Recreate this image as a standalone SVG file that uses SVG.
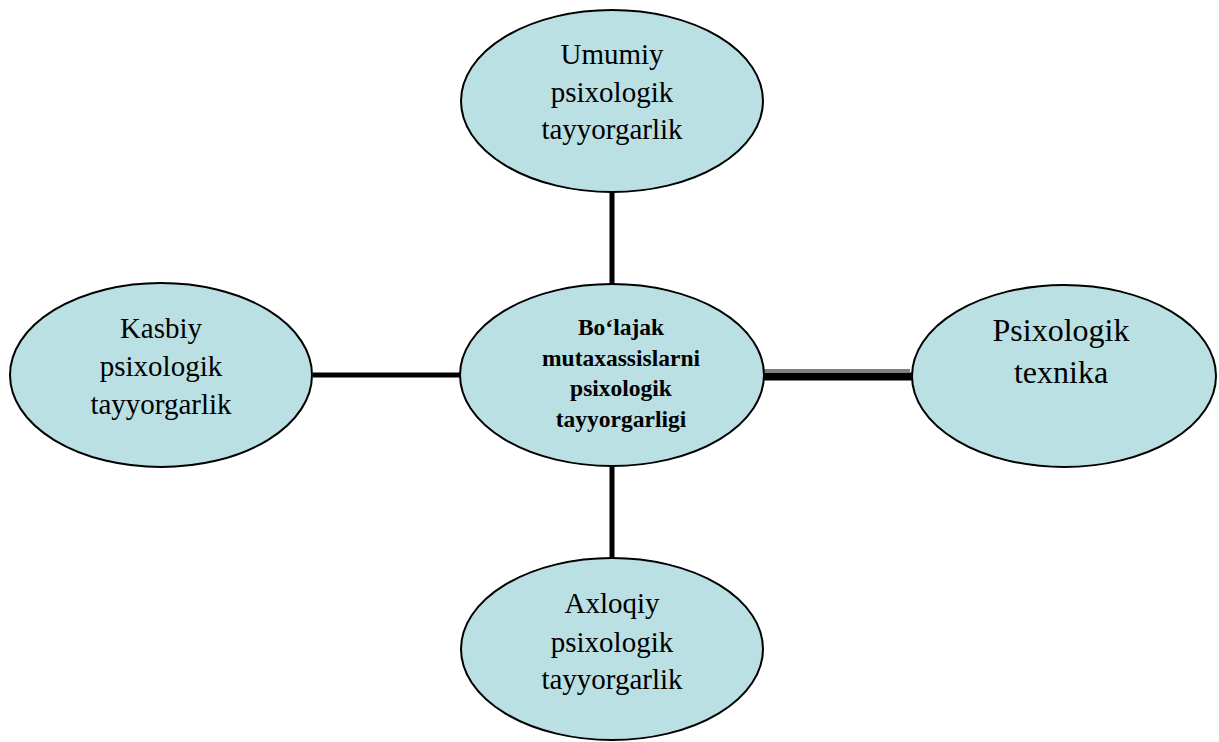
<svg xmlns="http://www.w3.org/2000/svg" width="1219" height="742" viewBox="0 0 1219 742">
<style>
.n{fill:#bae0e3;stroke:#000;stroke-width:2}
.t{font-family:"Liberation Serif","Times New Roman",serif;font-size:29px;fill:#000;text-anchor:middle}
.b{font-family:"Liberation Serif","Times New Roman",serif;font-size:23.5px;font-weight:bold;fill:#000;text-anchor:middle}
.c{stroke:#000;stroke-width:5;fill:none}
</style>
<rect width="1219" height="742" fill="#fff"/>
<g id="connectors">
<line class="c" x1="612" y1="192" x2="612" y2="284"/>
<line class="c" x1="313" y1="375" x2="461" y2="375"/>
<line class="c" x1="612" y1="466" x2="612" y2="558"/>
<line x1="763" y1="370.5" x2="910" y2="370.5" stroke="#808080" stroke-width="3"/>
<line x1="764" y1="376.5" x2="914" y2="376.5" stroke="#000" stroke-width="8"/>
</g>
<g id="top">
<ellipse class="n" cx="612" cy="101" rx="151" ry="91"/>
<text class="t" x="612" y="64">Umumiy</text>
<text class="t" x="612" y="102">psixologik</text>
<text class="t" x="612" y="139">tayyorgarlik</text>
</g>
<g id="left">
<ellipse class="n" cx="161" cy="375" rx="151" ry="92"/>
<text class="t" x="161" y="338">Kasbiy</text>
<text class="t" x="161" y="376">psixologik</text>
<text class="t" x="161" y="414">tayyorgarlik</text>
</g>
<g id="center">
<ellipse class="n" cx="612" cy="375" rx="152" ry="91"/>
<text class="b" x="621" y="335">Bo‘lajak</text>
<text class="b" x="621" y="366">mutaxassislarni</text>
<text class="b" x="621" y="396">psixologik</text>
<text class="b" x="621" y="427">tayyorgarligi</text>
</g>
<g id="right">
<ellipse class="n" cx="1064" cy="376" rx="152" ry="91"/>
<text class="t" x="1061" y="341" style="font-size:32px">Psixologik</text>
<text class="t" x="1061" y="383" style="font-size:32px">texnika</text>
</g>
<g id="bottom">
<ellipse class="n" cx="612" cy="649" rx="151" ry="91"/>
<text class="t" x="612" y="613">Axloqiy</text>
<text class="t" x="612" y="652">psixologik</text>
<text class="t" x="612" y="689">tayyorgarlik</text>
</g>
</svg>
